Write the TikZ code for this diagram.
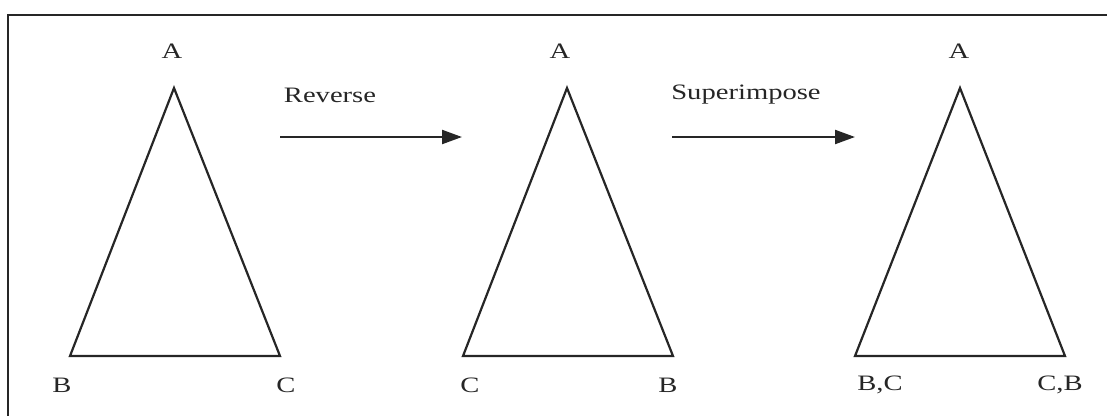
\documentclass[tikz,border=0pt]{standalone}
\usepackage{fontspec}
\setmainfont{Liberation Serif}
\usetikzlibrary{arrows.meta}
\definecolor{ink}{HTML}{262626}
\begin{document}
\begin{tikzpicture}[x=1pt,y=-1pt,
  edge/.style={draw=ink,line width=2.2pt,line join=miter},
  lbl/.style={text=ink,font=\fontsize{22}{26}\selectfont,xscale=1.3,inner sep=0pt},
  flow/.style={draw=ink,line width=2.2pt,-{Triangle[length=20pt,width=14pt]}}]
\useasboundingbox (0,0) rectangle (1107,416);
% frame
\draw[ink,line width=2.4pt] (1107,15) -- (8,15) -- (8,416);
% triangle 1
\coordinate (A1) at (174,88);
\coordinate (B1) at (70,356);
\coordinate (C1) at (280,356);
\draw[edge] (A1) -- (B1) -- (C1) -- cycle;
\node[lbl] (lA1) at (172,51) {A};
\node[lbl] (lB1) at (62,385) {B};
\node[lbl] (lC1) at (286,385) {C};
% triangle 2
\coordinate (A2) at (567,88);
\coordinate (B2) at (463,356);
\coordinate (C2) at (673,356);
\draw[edge] (A2) -- (B2) -- (C2) -- cycle;
\node[lbl] (lA2) at (560,51) {A};
\node[lbl] (lC2) at (470,385) {C};
\node[lbl] (lB2) at (668,385) {B};
% triangle 3
\coordinate (A3) at (960,88);
\coordinate (B3) at (855,356);
\coordinate (C3) at (1065,356);
\draw[edge] (A3) -- (B3) -- (C3) -- cycle;
\node[lbl] (lA3) at (959,51) {A};
\node[lbl] (lB3) at (880,385) {B,C};
\node[lbl] (lC3) at (1060,385) {C,B};
% arrows
\coordinate (r1) at (280,137);
\coordinate (r2) at (462,137);
\draw[flow] (r1) -- (r2);
\node[lbl] (rev) at (330,95) {Reverse};
\coordinate (s1) at (672,137);
\coordinate (s2) at (855,137);
\draw[flow] (s1) -- (s2);
\node[lbl] (sup) at (746,95) {Superimpose};
\end{tikzpicture}
\end{document}
